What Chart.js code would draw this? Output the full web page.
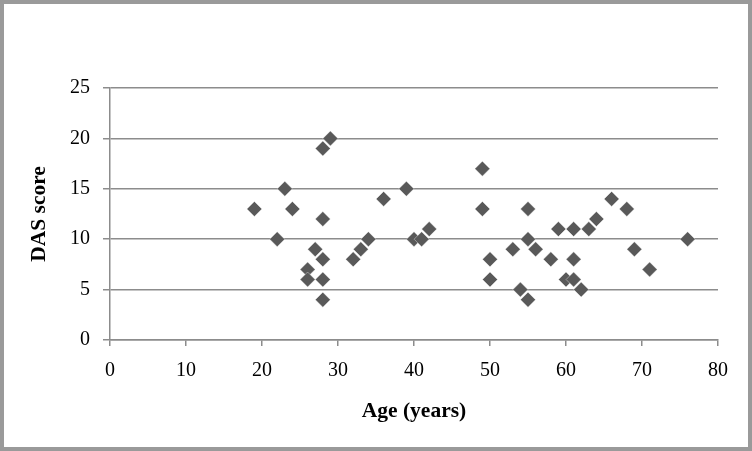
<!DOCTYPE html>
<html>
<head>
<meta charset="utf-8">
<script src="https://cdn.jsdelivr.net/npm/chart.js@4/dist/chart.umd.min.js"></script>
<style>
    body { margin: 0; background: #fff; }
    #frame { width: 752px; height: 451px; box-sizing: border-box; border: 4px solid #9a9a9a; background: #fff; }
    canvas { display: block; }
</style>
</head>
<body>
<div id="frame"><canvas id="das_chart" width="744" height="443"></canvas></div>
<script>
// age (years) and DAS score, one entry per patient
const ages = [19, 22, 23, 24, 26, 26, 27, 28, 28, 28, 28, 28, 29, 32, 33, 34, 36, 39, 40, 41, 42,
    49, 49, 50, 50, 53, 54, 55, 55, 55, 56, 58, 59, 60, 61, 61, 61, 62, 63, 64, 66, 68, 69, 71, 76];
const das_scores = [13, 10, 15, 13, 7, 6, 9, 19, 12, 8, 6, 4, 20, 8, 9, 10, 14, 15, 10, 10, 11,
    17, 13, 8, 6, 9, 5, 13, 10, 4, 9, 8, 11, 6, 11, 8, 6, 5, 11, 12, 14, 13, 9, 7, 10];
const x_ticks = [0, 10, 20, 30, 40, 50, 60, 70, 80];
const y_ticks = [0, 5, 10, 15, 20, 25];

let points = [];
for (i = 0; i < ages.length; i++) {
    points.push({ x: ages[i], y: das_scores[i] });
}

const tick_font = { family: "'Liberation Serif', serif", size: 20 };
const title_font = { family: "'Liberation Serif', serif", size: 21.5, weight: 'bold' };

let ctx = document.getElementById('das_chart').getContext('2d');
let das_chart = new Chart(ctx, {
    type: 'scatter',
    data: {
        datasets: [{
            label: 'DAS score',
            data: points,
            pointStyle: 'rectRot',
            pointRadius: 7.5,
            pointHoverRadius: 7.5,
            backgroundColor: '#595959',
            borderColor: 'rgba(255, 255, 255, 0.5)',
            borderWidth: 0.75
        }]
    },
    options: {
        responsive: false,
        animation: false,
        layout: {
            padding: { top: 84, right: 30, left: 0, bottom: 0 }
        },
        plugins: {
            legend: { display: false },
            tooltip: { enabled: false }
        },
        scales: {
            x: {
                type: 'linear',
                min: x_ticks[0],
                max: x_ticks[x_ticks.length - 1],
                afterBuildTicks: function (scale) {
                    scale.ticks = x_ticks.map(v => ({ value: v }));
                },
                afterFit: function (scale) {
                    scale.height = 107;
                },
                grid: {
                    drawOnChartArea: false,
                    drawTicks: true,
                    tickLength: 6,
                    color: '#8c8c8c',
                    lineWidth: 1.5
                },
                border: { display: true, color: '#8c8c8c', width: 1.5 },
                ticks: {
                    color: '#000',
                    font: tick_font,
                    padding: 13,
                    maxRotation: 0
                },
                title: {
                    display: true,
                    text: 'Age (years)',
                    color: '#000',
                    font: title_font,
                    padding: { top: 0, bottom: 23 }
                }
            },
            y: {
                type: 'linear',
                min: y_ticks[0],
                max: y_ticks[y_ticks.length - 1],
                afterBuildTicks: function (scale) {
                    scale.ticks = y_ticks.map(v => ({ value: v }));
                },
                afterFit: function (scale) {
                    scale.width = 106;
                },
                grid: {
                    drawTicks: true,
                    tickLength: 7,
                    color: '#8c8c8c',
                    lineWidth: 1.5
                },
                border: { display: true, color: '#8c8c8c', width: 1.5 },
                ticks: {
                    color: '#000',
                    font: tick_font,
                    padding: 13
                },
                title: {
                    display: true,
                    text: 'DAS score',
                    color: '#000',
                    font: title_font,
                    padding: { top: 23, bottom: 0 }
                }
            }
        }
    }
});
</script>
</body>
</html>
